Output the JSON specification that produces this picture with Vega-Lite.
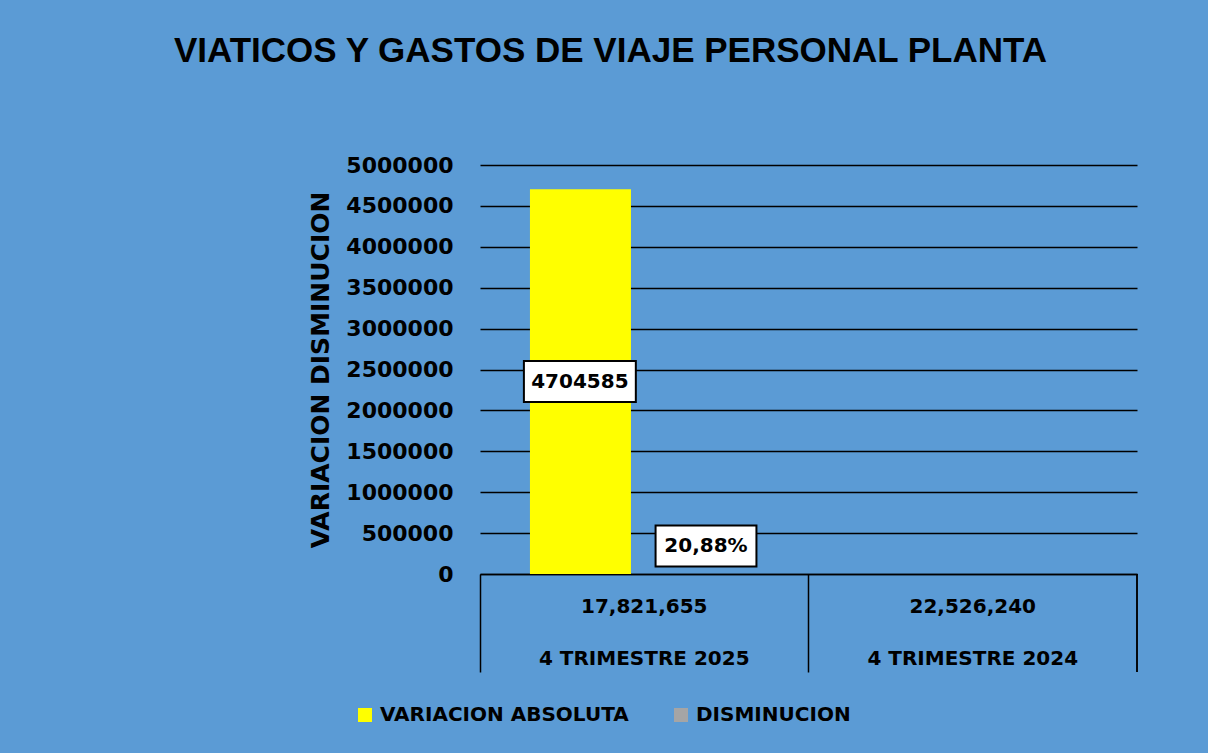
{
  "$schema": "https://vega.github.io/schema/vega-lite/v6.json",
  "width": 657,
  "height": 409,
  "autosize": {"type": "none"},
  "padding": {"left": 480, "top": 165, "right": 71, "bottom": 179},
  "background": "#5B9BD5",
  "title": {
    "text": "VIATICOS Y GASTOS DE VIAJE PERSONAL PLANTA",
    "font": "Liberation Sans",
    "fontSize": 35,
    "fontWeight": "bold",
    "color": "black",
    "anchor": "middle",
    "frame": "group",
    "dx": -198,
    "offset": 85
  },
  "config": {"view": {"stroke": null}, "font": "DejaVu Sans"},
  "data": {
    "values": [
      {"periodo": "4 TRIMESTRE 2025", "serie": "VARIACION ABSOLUTA", "valor": 4704585, "etiqueta": "4704585"},
      {"periodo": "4 TRIMESTRE 2025", "serie": "DISMINUCION", "valor": 0.2088, "etiqueta": "20,88%"}
    ]
  },
  "encoding": {
    "x": {
      "field": "periodo",
      "type": "nominal",
      "scale": {"domain": ["4 TRIMESTRE 2025", "4 TRIMESTRE 2024"], "paddingInner": 0, "paddingOuter": 0},
      "axis": {
        "title": null,
        "orient": "bottom",
        "bandPosition": 0,
        "domain": true,
        "domainColor": "black",
        "domainWidth": 1.5,
        "ticks": true,
        "tickSize": 98,
        "tickColor": "black",
        "tickWidth": 1.5,
        "grid": false,
        "labelAngle": 0,
        "labelAlign": "center",
        "labelOffset": 0,
        "labelExpr": "datum.value == '4 TRIMESTRE 2025' ? ['17,821,655', '4 TRIMESTRE 2025'] : ['22,526,240', '4 TRIMESTRE 2024']",
        "labelFont": "DejaVu Sans",
        "labelFontWeight": "bold",
        "labelFontSize": 20,
        "labelColor": "black",
        "labelBaseline": "top",
        "labelPadding": -76,
        "labelLineHeight": 52,
        "labelOverlap": false,
        "labelLimit": 0
      }
    }
  },
  "layer": [
    {
      "mark": {"type": "bar"},
      "encoding": {
        "xOffset": {
          "field": "serie",
          "type": "nominal",
          "scale": {"domain": ["VARIACION ABSOLUTA", "DISMINUCION"], "paddingInner": 0, "paddingOuter": 0.626, "align": 0.395}
        },
        "y": {
          "field": "valor",
          "type": "quantitative",
          "title": "VARIACION  DISMINUCION",
          "scale": {"domain": [0, 5000000], "nice": false},
          "axis": {
            "values": [0, 500000, 1000000, 1500000, 2000000, 2500000, 3000000, 3500000, 4000000, 4500000, 5000000],
            "format": "d",
            "domain": false,
            "ticks": false,
            "grid": true,
            "gridColor": "black",
            "gridWidth": 1.5,
            "gridOpacity": 1,
            "labelFont": "DejaVu Sans",
            "labelFontWeight": "bold",
            "labelFontSize": 22,
            "labelColor": "black",
            "labelPadding": 27,
            "titleFont": "DejaVu Sans",
            "titleFontWeight": "bold",
            "titleFontSize": 25,
            "titleColor": "black",
            "titlePadding": 12,
            "titleLimit": 0
          }
        },
        "color": {
          "field": "serie",
          "type": "nominal",
          "scale": {"domain": ["VARIACION ABSOLUTA", "DISMINUCION"], "range": ["#FFFF00", "#A5A5A5"]},
          "legend": {
            "orient": "none",
            "legendX": -125,
            "legendY": 540,
            "direction": "horizontal",
            "title": null,
            "symbolType": "square",
            "symbolSize": 196,
            "symbolStrokeWidth": 0,
            "symbolOpacity": 1,
            "labelFont": "DejaVu Sans",
            "labelFontWeight": "bold",
            "labelFontSize": 20,
            "labelColor": "black",
            "labelOffset": 5,
            "columnPadding": 42,
            "labelLimit": 0
          }
        }
      }
    },
    {
      "mark": {"type": "rule", "color": "black", "strokeWidth": 1.5},
      "encoding": {
        "x": {"datum": "4 TRIMESTRE 2024", "type": "nominal", "bandPosition": 1},
        "y": {"datum": 0, "type": "quantitative", "title": "VARIACION  DISMINUCION"},
        "y2": {"datum": -1198000}
      }
    },
    {
      "transform": [
        {"filter": "datum.serie == 'VARIACION ABSOLUTA'"},
        {"calculate": "datum.valor / 2", "as": "mitad"}
      ],
      "mark": {"type": "point", "filled": true, "fill": "white", "stroke": "black", "strokeWidth": 2, "opacity": 1, "shape": "M-2.73,-1H2.73V1H-2.73Z", "size": 1681},
      "encoding": {
        "x": {"field": "periodo", "type": "nominal", "bandPosition": 0.304},
        "y": {"field": "mitad", "type": "quantitative", "title": "VARIACION  DISMINUCION"}
      }
    },
    {
      "transform": [
        {"filter": "datum.serie == 'VARIACION ABSOLUTA'"},
        {"calculate": "datum.valor / 2", "as": "mitad"}
      ],
      "mark": {"type": "text", "font": "DejaVu Sans", "fontWeight": "bold", "fontSize": 20, "color": "black", "align": "center", "baseline": "middle"},
      "encoding": {
        "x": {"field": "periodo", "type": "nominal", "bandPosition": 0.304},
        "y": {"field": "mitad", "type": "quantitative", "title": "VARIACION  DISMINUCION"},
        "text": {"field": "etiqueta"}
      }
    },
    {
      "transform": [{"filter": "datum.serie == 'DISMINUCION'"}],
      "mark": {"type": "point", "filled": true, "fill": "white", "stroke": "black", "strokeWidth": 2, "opacity": 1, "shape": "M-2.46,-1H2.46V1H-2.46Z", "size": 1681, "yOffset": -28},
      "encoding": {
        "x": {"field": "periodo", "type": "nominal", "bandPosition": 0.688},
        "y": {"field": "valor", "type": "quantitative", "title": "VARIACION  DISMINUCION"}
      }
    },
    {
      "transform": [{"filter": "datum.serie == 'DISMINUCION'"}],
      "mark": {"type": "text", "font": "DejaVu Sans", "fontWeight": "bold", "fontSize": 20, "color": "black", "align": "center", "baseline": "middle", "yOffset": -28},
      "encoding": {
        "x": {"field": "periodo", "type": "nominal", "bandPosition": 0.688},
        "y": {"field": "valor", "type": "quantitative", "title": "VARIACION  DISMINUCION"},
        "text": {"field": "etiqueta"}
      }
    }
  ]
}
